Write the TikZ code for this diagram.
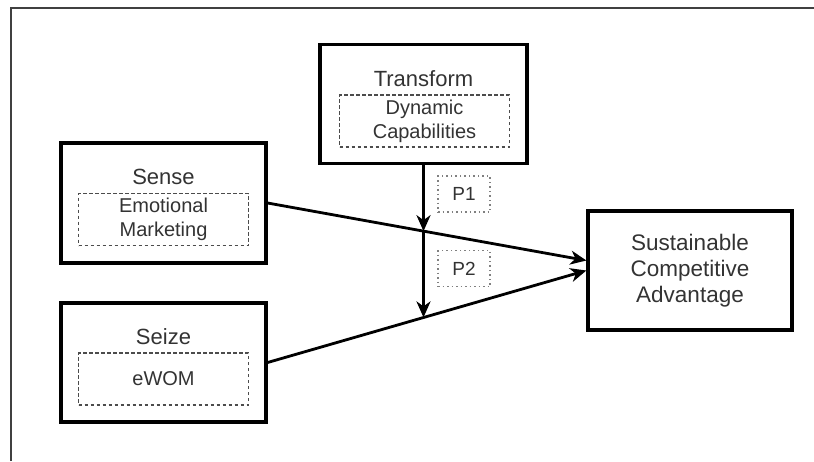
\documentclass[tikz,border=0pt]{standalone}
\usepackage{fontspec}
\setmainfont{Liberation Sans}
\usetikzlibrary{arrows.meta,calc}
\tikzset{
  outerbox/.style={draw=black, line width=3.2pt, minimum width=#1, minimum height=119pt, inner sep=0pt},
  innerbox/.style={draw=black!70, dashed, dash pattern=on 3.5pt off 2.5pt, line width=1.4pt, minimum width=170pt, minimum height=52pt, inner sep=0pt, align=center, text=black!80, font=\fontsize{20}{24}\selectfont},
  titletext/.style={inner sep=0pt, text=black!80, font=\fontsize{22}{26}\selectfont},
  pbox/.style={draw=black!50, dash pattern=on 1.5pt off 3pt, line width=1.5pt, minimum width=52pt, minimum height=36pt, inner sep=0pt, text=black!80, font=\fontsize{19}{22}\selectfont},
  link/.style={line width=2.8pt, -{Stealth[length=16pt, width=14pt, inset=5pt]}}
}
\begin{document}
\begin{tikzpicture}[x=1pt, y=-1pt]
  \useasboundingbox (0,0) rectangle (814,461);
  \draw[black!75, line width=1.8pt] (11,461) -- (11,8) -- (814,8);

  \node[outerbox=207pt] (transform) at (423.5,104) {};
  \node[titletext] (transformtitle) at (423.5,79) {Transform};
  \node[innerbox] (transforminner) at (424.5,121) {Dynamic\\Capabilities};

  \node[outerbox=205pt, minimum height=120pt] (sense) at (163.5,203) {};
  \node[titletext] (sensetitle) at (163.5,177) {Sense};
  \node[innerbox] (senseinner) at (163.5,219.5) {Emotional\\Marketing};

  \node[outerbox=205pt] (seize) at (163.5,362.5) {};
  \node[titletext] (seizetitle) at (163.5,337) {Seize};
  \node[innerbox] (seizeinner) at (163.5,379) {eWOM};

  \node[outerbox=204pt, align=center, text=black!80, font=\fontsize{22.5}{26}\selectfont] (sca) at (690,270.5) {Sustainable\\Competitive\\Advantage};

  \node[pbox] (p1) at (464,194) {P1};
  \node[pbox] (p2) at (464,268.5) {P2};

  \coordinate (scaupper) at ($(sca.west)+(0,-10)$);
  \coordinate (scalower) at ($(sca.west)+(0,0)$);
  \draw[link] (sense.east) -- (scaupper) coordinate[pos=0.49] (crossa);
  \draw[link] (seize.east) -- (scalower) coordinate[pos=0.49] (crossb);
  \draw[link] (transform.south) -- (transform.south |- crossa);
  \draw[link] (transform.south |- crossa) -- (transform.south |- crossb);
\end{tikzpicture}
\end{document}
